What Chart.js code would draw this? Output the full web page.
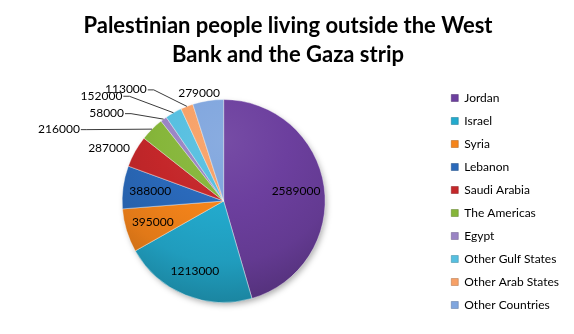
<!DOCTYPE html>
<html>
<head>
<meta charset="utf-8">
<script src="https://cdn.jsdelivr.net/npm/chart.js@4.4.0/dist/chart.umd.min.js"></script>
<style>
  html, body { margin: 0; padding: 0; background: #fff; }
  #wrap { width: 574px; height: 334px; position: relative; }
</style>
</head>
<body>
<div id="wrap"><canvas id="pieChart"></canvas></div>
<script>
// ─── DATA ────────────────────────────────────────────────────────────────
const CATEGORIES = [
  "Jordan", "Israel", "Syria", "Lebanon", "Saudi Arabia",
  "The Americas", "Egypt", "Other Gulf States", "Other Arab States", "Other Countries"
];
const POPULATION = [2589000, 1213000, 395000, 388000, 287000, 216000, 58000, 152000, 113000, 279000];
const TITLE_LINES = ["Palestinian people living outside the West", "Bank and the Gaza strip"];

const SLICE_COLORS = [
  "#6c3f9e", "#23aacd", "#f5841a", "#2a69ba", "#c4272a",
  "#86b63a", "#9a84c4", "#56bfe0", "#f7a066", "#80a6de"
];

// where each value label sits: inside = fraction of radius along the mid angle,
// otherwise dx/dy from the slice's outer mid point (leader = draw a line back)
const LABEL_PLACEMENT = [
  { inside: 0.72 }, { inside: 0.75 }, { inside: 0.73 }, { inside: 0.73 },
  { dx: -26, dy: -3 },
  { dx: -93, dy: 0, leader: true },
  { dx: -57, dy: -6, leader: true },
  { dx: -72, dy: -17, leader: true },
  { dx: -61, dy: -17, leader: true },
  { dx: -9, dy: -8 }
];

const FONT = "Lato, 'Open Sans', sans-serif";

// ─── HELPERS ─────────────────────────────────────────────────────────────
function shade(hex, amt) {
  const n = parseInt(hex.slice(1), 16);
  const r = n >> 16, g = (n >> 8) & 255, b = n & 255;
  const f = v => amt >= 0 ? Math.round(v + (255 - v) * amt) : Math.round(v * (1 + amt));
  return `rgb(${f(r)},${f(g)},${f(b)})`;
}

// light from the top, darker towards the bottom rim
function sliceFill(context) {
  const chart = context.chart;
  const area = chart.chartArea;
  const base = SLICE_COLORS[context.dataIndex];
  if (!area) return base;
  const cx = (area.left + area.right) / 2;
  const cy = (area.top + area.bottom) / 2;
  const r = Math.min(area.right - area.left, area.bottom - area.top) / 2;
  const oy = cy - 0.6 * r;
  const g = chart.ctx.createRadialGradient(cx, oy, 0, cx, oy, 1.6 * r);
  g.addColorStop(0, shade(base, 0.07));
  g.addColorStop(0.4, base);
  g.addColorStop(0.75, shade(base, -0.08));
  g.addColorStop(1, shade(base, -0.22));
  return g;
}

// ─── PLUGINS ─────────────────────────────────────────────────────────────
const pieShadow = {
  id: "pieShadow",
  beforeDatasetsDraw(chart) {
    const arc = chart.getDatasetMeta(0).data[0];
    if (!arc) return;
    const c = chart.ctx;
    c.save();
    c.shadowColor = "rgba(0,0,0,0.35)";
    c.shadowBlur = 6;
    c.shadowOffsetX = 2;
    c.shadowOffsetY = 3;
    c.fillStyle = "#888";
    c.beginPath();
    c.arc(arc.x, arc.y, arc.outerRadius - 1, 0, Math.PI * 2);
    c.fill();
    c.restore();
  }
};

const valueLabels = {
  id: "valueLabels",
  afterDatasetsDraw(chart) {
    const meta = chart.getDatasetMeta(0);
    const c = chart.ctx;
    c.save();
    c.font = `12px ${FONT}`;
    c.fillStyle = "#000";
    c.strokeStyle = "#3a3a3a";
    c.lineWidth = 1;
    c.textAlign = "center";
    c.textBaseline = "middle";
    meta.data.forEach((arc, i) => {
      const p = LABEL_PLACEMENT[i];
      const mid = (arc.startAngle + arc.endAngle) / 2;
      const text = String(POPULATION[i]);
      if (p.inside) {
        const r = arc.outerRadius * p.inside;
        c.fillText(text, arc.x + Math.cos(mid) * r, arc.y + Math.sin(mid) * r);
        return;
      }
      const ex = arc.x + Math.cos(mid) * arc.outerRadius;
      const ey = arc.y + Math.sin(mid) * arc.outerRadius;
      const lx = ex + p.dx, ly = ey + p.dy;
      c.fillText(text, lx, ly);
      if (p.leader) {
        const sx = lx + c.measureText(text).width / 2 + 1;
        c.beginPath();
        c.moveTo(sx, ly + 0.5);
        c.lineTo(sx + 6, ly + 0.5);
        c.lineTo(ex, ey);
        c.stroke();
      }
    });
    c.restore();
  }
};

// ─── CHART ───────────────────────────────────────────────────────────────
const ctx = document.getElementById("pieChart");
new Chart(ctx, {
  type: "pie",
  data: {
    labels: CATEGORIES,
    datasets: [{
      data: POPULATION,
      backgroundColor: sliceFill,
      borderColor: "rgba(255,255,255,0.4)",
      borderWidth: 1,
      hoverOffset: 0
    }]
  },
  options: {
    responsive: true,
    maintainAspectRatio: false,
    animation: false,
    layout: { padding: { left: 7, right: 5, top: 0, bottom: 12 } },
    plugins: {
      title: {
        display: true,
        text: TITLE_LINES,
        color: "#000",
        font: { family: FONT, size: 22, weight: "bold", lineHeight: "29px" },
        padding: { top: 11.5, bottom: 29.5 }
      },
      // empty bottom band: lifts the pie off the bottom edge while the legend keeps full height
      subtitle: {
        display: true,
        position: "bottom",
        text: "",
        font: { size: 10, lineHeight: "10px" },
        padding: { top: 9, bottom: 0 }
      },
      legend: {
        position: "right",
        align: "end",
        labels: {
          color: "#222",
          font: { family: FONT, size: 12 },
          boxWidth: 7,
          boxHeight: 7,
          padding: 11,
          generateLabels(chart) {
            return CATEGORIES.map((name, i) => ({
              text: name,
              fillStyle: SLICE_COLORS[i],
              strokeStyle: shade(SLICE_COLORS[i], -0.3),
              lineWidth: 0.5,
              hidden: false,
              index: i
            }));
          }
        }
      },
      tooltip: { enabled: false }
    }
  },
  plugins: [pieShadow, valueLabels]
});
</script>
</body>
</html>
